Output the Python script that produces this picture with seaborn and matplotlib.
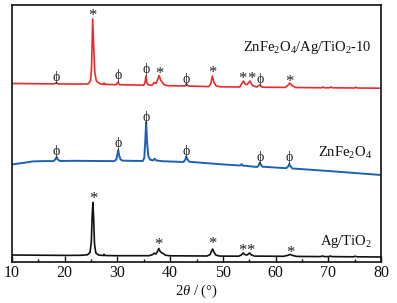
import matplotlib
matplotlib.use("Agg")
import matplotlib.pyplot as plt
import matplotlib.transforms as mtransforms
import seaborn as sns
import pandas as pd

# ---------------- data (2theta in degrees, intensity in arbitrary units incl. stacking offset) -------------
agtio2_x = [10.0, 15.0, 20.0, 23.0, 24.3, 24.8, 25.05, 25.2, 25.35, 25.5, 25.65, 25.9, 26.4, 27.3, 27.45, 27.6,
            30.0, 36.0, 36.7, 36.95, 37.3, 37.6, 37.85, 38.1, 38.5, 38.7, 39.1, 40.0, 47.0, 47.6, 47.85, 48.05,
            48.3, 48.7, 49.5, 53.0, 53.5, 53.85, 54.2, 54.6, 55.05, 55.4, 56.0, 61.5, 62.3, 62.75, 63.2, 64.0,
            68.5, 68.9, 69.3, 70.1, 70.4, 70.7, 74.8, 75.1, 75.4, 80.0]
agtio2_y = [7.0, 6.8, 6.6, 6.7, 7.2, 9.5, 20.0, 45.0, 59.5, 42.0, 18.0, 9.0, 7.0, 6.5, 7.8, 6.5,
            6.3, 6.3, 7.5, 8.8, 8.0, 10.5, 13.5, 10.5, 8.8, 8.5, 6.8, 6.2, 6.0, 7.5, 11.0, 13.0,
            10.0, 6.8, 5.9, 5.8, 7.0, 9.0, 7.3, 7.0, 9.0, 7.2, 5.9, 5.7, 6.6, 7.6, 6.6, 5.6,
            5.4, 6.0, 5.4, 5.4, 6.0, 5.4, 5.2, 5.8, 5.2, 5.0]

znfe_x = [10.0, 11.0, 12.5, 14.0, 16.0, 17.9, 18.2, 18.45, 18.7, 19.1, 22.0, 26.0, 29.4, 29.8, 30.0, 30.15,
          30.35, 30.6, 31.0, 34.8, 35.1, 35.25, 35.45, 35.62, 35.85, 36.2, 36.8, 37.05, 37.35, 38.5, 42.5,
          42.85, 43.05, 43.25, 43.6, 46.0, 50.0, 53.3, 53.55, 53.8, 56.5, 56.8, 57.0, 57.2, 57.5, 62.0,
          62.4, 62.6, 62.8, 63.2, 66.0, 70.0, 75.0, 80.0]
znfe_y = [97.5, 98.3, 99.4, 100.6, 100.9, 100.9, 102.5, 105.0, 102.5, 101.0, 101.2, 101.0, 100.9, 102.5, 108.0, 112.0,
          106.0, 102.5, 101.3, 101.0, 104.0, 118.0, 140.0, 120.0, 106.0, 102.3, 101.6, 103.4, 101.6, 100.8, 100.0,
          102.0, 105.5, 103.0, 100.3, 99.2, 97.6, 96.5, 97.8, 96.4, 95.0, 96.5, 99.5, 97.5, 95.3, 93.8,
          95.5, 98.0, 96.0, 93.5, 92.5, 91.0, 89.0, 87.0]

comp_x = [10.0, 14.0, 18.0, 18.4, 18.8, 22.0, 24.4, 24.9, 25.1, 25.3, 25.5, 25.7, 26.0, 26.6, 27.3, 27.45,
          27.6, 29.8, 30.1, 30.4, 35.0, 35.25, 35.42, 35.6, 35.9, 36.6, 36.95, 37.3, 37.6, 37.9, 38.2,
          38.6, 38.9, 39.5, 42.8, 43.1, 43.4, 47.3, 47.7, 48.0, 48.3, 48.7, 49.5, 53.2, 53.9, 54.3,
          54.6, 55.15, 55.6, 56.4, 57.0, 57.5, 61.8, 62.3, 62.7, 63.1, 63.8, 68.7, 69.0, 69.3, 70.2,
          70.5, 70.8, 74.9, 75.2, 75.5, 80.0]
comp_y = [178.5, 178.3, 178.1, 179.3, 178.1, 177.9, 178.0, 181.0, 195.0, 243.0, 215.0, 190.0, 181.0, 178.5, 177.6, 179.0,
          177.6, 177.3, 180.0, 177.3, 176.8, 180.0, 186.0, 179.0, 177.0, 176.8, 179.5, 178.5, 182.0, 186.5, 182.0,
          179.0, 177.2, 176.3, 176.0, 178.3, 176.0, 175.4, 178.0, 186.0, 180.0, 176.2, 175.2, 175.0, 181.0, 177.5,
          177.5, 181.0, 176.5, 174.9, 177.0, 174.8, 174.6, 176.5, 179.0, 176.5, 174.5, 174.2, 175.0, 174.2, 174.2,
          175.0, 174.2, 174.0, 174.7, 174.0, 173.8]

# peak markers: * = anatase TiO2, phi = ZnFe2O4
comp_star_x = [25.3, 37.9, 48.0, 53.75, 55.35, 62.7]
comp_star_y = [250, 192, 193, 187, 187, 184]
comp_phi_x = [18.4, 30.1, 35.4, 43.1, 57.0]
comp_phi_y = [185, 186, 192, 183, 183]
znfe_phi_x = [18.45, 30.15, 35.45, 43.05, 57.0, 62.6]
znfe_phi_y = [111, 119, 145, 111, 105, 105]
agtio2_star_x = [25.35, 37.85, 48.05, 53.75, 55.3, 62.75]
agtio2_star_y = [67, 21, 22, 15, 15, 13]

series_labels = ["ZnFe$_2$O$_4$/Ag/TiO$_2$-10", "ZnFe$_2$O$_4$", "Ag/TiO$_2$"]
label_y = [214, 109, 20]
xticks = [10, 20, 30, 40, 50, 60, 70, 80]

# ---------------- styling -------------
sns.set_theme(style="ticks")
plt.rcParams["font.family"] = ["Liberation Serif", "DejaVu Serif"]
plt.rcParams["mathtext.fontset"] = "custom"
plt.rcParams["mathtext.rm"] = "Liberation Serif"
plt.rcParams["mathtext.it"] = "Liberation Serif:italic"
plt.rcParams["mathtext.bf"] = "Liberation Serif:bold"

fig = plt.figure(figsize=(3.97, 3.03), dpi=100)
ax = fig.add_axes([12 / 397, 1 - 262 / 303, 369 / 397, 257 / 303])

red = "#ec2a2c"
blue = "#1c61b5"
black = "#111111"

df_a = pd.DataFrame({"x": agtio2_x, "y": agtio2_y})
df_z = pd.DataFrame({"x": znfe_x, "y": znfe_y})
df_c = pd.DataFrame({"x": comp_x, "y": comp_y})
sns.lineplot(data=df_a, x="x", y="y", ax=ax, color=black, lw=1.2, estimator=None)
sns.lineplot(data=df_z, x="x", y="y", ax=ax, color=blue, lw=1.4, estimator=None)
sns.lineplot(data=df_c, x="x", y="y", ax=ax, color=red, lw=1.2, estimator=None)

star_off = mtransforms.offset_copy(ax.transData, fig=fig, x=0, y=-4, units="dots")
phi_off = mtransforms.offset_copy(ax.transData, fig=fig, x=0, y=0, units="dots")
for xs, ys in [(comp_star_x, comp_star_y), (agtio2_star_x, agtio2_star_y)]:
    for x, y in zip(xs, ys):
        ax.text(x, y, "*", ha="center", va="center", fontsize=12, color="#222222", transform=star_off)
for xs, ys in [(comp_phi_x, comp_phi_y), (znfe_phi_x, znfe_phi_y)]:
    for x, y in zip(xs, ys):
        ax.text(x, y, "ϕ", ha="center", va="center", fontsize=10, color="#222222", transform=phi_off)

for lab, y in zip(series_labels, label_y):
    ax.text(78.3, y, lab, ha="right", va="center", fontsize=10.5, color="#111111")

ax.set_xlim(10, 80)
ax.set_ylim(0, 257)
ax.set_xticks(xticks)
ax.set_xticks([15, 25, 35, 45, 55, 65, 75], minor=True)
ax.set_yticks([])
ax.tick_params(axis="x", which="major", direction="in", length=4, width=1, labelsize=11.5, pad=2, colors="#111111")
ax.tick_params(axis="x", which="minor", direction="in", length=2.5, width=1, colors="#111111")
for s in ax.spines.values():
    s.set_visible(True)
    s.set_linewidth(1.2)
    s.set_color("#111111")
ax.set_ylabel("")
ax.set_xlabel(r"$\mathit{2\theta}$ / (°)", fontsize=10.5, labelpad=1, color="#111111")

fig.savefig("out.png", dpi=100)
